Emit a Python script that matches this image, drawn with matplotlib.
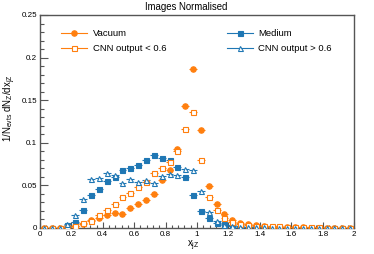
#=========================================================================
# images-normalised.py
#=========================================================================

import matplotlib
matplotlib.use( 'Agg' )
import matplotlib.pyplot as plt
from matplotlib.lines import Line2D
from matplotlib.ticker import MultipleLocator
import numpy as np

#-------------------------------------------------------------------------
# Configure matplotlib
#-------------------------------------------------------------------------

plt.rcParams['font.family']      = ['Liberation Sans', 'DejaVu Sans']
plt.rcParams['mathtext.default'] = 'regular'
plt.rcParams['figure.figsize']   = [ 3.74, 2.54 ]
plt.rcParams['figure.dpi']       = 100

#-------------------------------------------------------------------------
# Get data
#-------------------------------------------------------------------------

# Bin centres of x_jZ (bin width 0.05)

bin_width = 0.05
x_centres = np.arange( 40 ) * bin_width + bin_width / 2

# 1/N dN/dx per bin

vacuum = [
  0.0,    0.0,    0.0003, 0.001,  0.002,  0.005,  0.009,  0.0114, 0.015,  0.018,
  0.016,  0.024,  0.028,  0.033,  0.0398, 0.056,  0.0675, 0.0925, 0.1435, 0.187,
  0.1145, 0.049,  0.028,  0.016,  0.0098, 0.006,  0.0047, 0.003,  0.0022, 0.0016,
  0.0012, 0.001,  0.0008, 0.0006, 0.0005, 0.0004, 0.0003, 0.0002, 0.0002, 0.0001,
]

medium = [
  0.0,    0.0,    0.0003, 0.003,  0.0075, 0.0214, 0.0384, 0.046,  0.055,  0.060,
  0.068,  0.0705, 0.0745, 0.080,  0.0855, 0.0824, 0.0798, 0.0712, 0.0595, 0.039,
  0.020,  0.0118, 0.0063, 0.0045, 0.0031, 0.0018, 0.0012, 0.0008, 0.0006, 0.0005,
  0.0004, 0.0003, 0.0003, 0.0002, 0.0002, 0.0002, 0.0001, 0.0001, 0.0001, 0.0001,
]

cnn_low = [
  0.0,    0.0,    0.0003, 0.0006, 0.002,  0.0055, 0.0086, 0.015,  0.0216, 0.028,
  0.036,  0.0415, 0.048,  0.0545, 0.065,  0.0706, 0.0773, 0.0898, 0.1165, 0.136,
  0.080,  0.0367, 0.0215, 0.012,  0.0068, 0.0045, 0.0032, 0.0027, 0.0024, 0.0022,
  0.002,  0.0016, 0.0013, 0.001,  0.0008, 0.0006, 0.0005, 0.0004, 0.0003, 0.0002,
]

cnn_high = [
  0.0,    0.0,    0.0005, 0.0047, 0.0157, 0.0345, 0.058,  0.059,  0.065,  0.062,
  0.053,  0.058,  0.0545, 0.056,  0.053,  0.0616, 0.0635, 0.0624, 0.069,  0.0675,
  0.044,  0.0184, 0.008,  0.004,  0.0025, 0.0015, 0.001,  0.0008, 0.0006, 0.0005,
  0.0004, 0.0003, 0.0003, 0.0002, 0.0002, 0.0001, 0.0001, 0.0001, 0.0001, 0.0001,
]

labels = [
  'Vacuum',
  'Medium',
  'CNN output < 0.6',
  'CNN output > 0.6',
]

#-------------------------------------------------------------------------
# Plot parameters
#-------------------------------------------------------------------------

orange = '#ff7f0e'
blue   = '#1f77b4'
frame  = '#555555'

# (data, colour, marker, filled)

series = [
  ( vacuum,   orange, 'o', True  ),
  ( medium,   blue,   's', True  ),
  ( cnn_low,  orange, 's', False ),
  ( cnn_high, blue,   '^', False ),
]

msize = 3.6

#-------------------------------------------------------------------------
# Create plot
#-------------------------------------------------------------------------

fig = plt.figure()
ax  = fig.add_axes( [ 40/374, 1-228/254, 314/374, 213/254 ] )

handles = []

for data, col, mark, filled in series:
  face = col if filled else 'white'
  ms   = msize if mark != 'o' else msize + 0.3
  ax.errorbar( x_centres, data, xerr=bin_width/2, fmt=mark, color=col,
               mfc=face, mec=col, ms=ms, mew=0.8, elinewidth=0.8,
               capsize=0, zorder=3 )
  handles.append( Line2D( [0], [0], color=col, marker=mark, mfc=face,
                          mec=col, ms=ms, mew=0.8, lw=0.8 ) )

# Axis limits and ticks

ax.set_xlim( 0, 2 )
ax.set_ylim( 0, 0.25 )

ax.xaxis.set_major_locator( MultipleLocator( 0.2 ) )
ax.xaxis.set_minor_locator( MultipleLocator( 0.04 ) )
ax.yaxis.set_major_locator( MultipleLocator( 0.05 ) )
ax.yaxis.set_minor_locator( MultipleLocator( 0.01 ) )

ax.xaxis.set_major_formatter( plt.FuncFormatter( lambda v, p: '%g' % round( v, 3 ) ) )
ax.yaxis.set_major_formatter( plt.FuncFormatter( lambda v, p: '%g' % round( v, 3 ) ) )

ax.tick_params( axis='both', which='both', direction='in', color=frame,
                width=0.8, labelsize=5.8, top=False, right=False )
ax.tick_params( axis='x', which='major', length=4.5, pad=2.5 )
ax.tick_params( axis='x', which='minor', length=2.3 )
ax.tick_params( axis='y', which='major', length=6.0, pad=2 )
ax.tick_params( axis='y', which='minor', length=3.0 )

for sp in ax.spines.values():
  sp.set_color( frame )
  sp.set_linewidth( 1.0 )

# Legend (two columns, no frame)

order = [ 0, 2, 1, 3 ]
ax.legend( [ handles[i] for i in order ], [ labels[i] for i in order ],
           ncol=2, frameon=False, loc='upper left',
           bbox_to_anchor=( 21/314, 0.935 ), borderpad=0, borderaxespad=0,
           fontsize=6.8, handlelength=2.8, handletextpad=0.55,
           columnspacing=6.4, labelspacing=0.7 )

# Titles

fig.text( 186/374, 1-7/254, 'Images Normalised', ha='center', va='center',
          fontsize=6.9 )
fig.text( 193/374, 1-246/254, 'x$_{jZ}$', ha='center', va='center',
          fontsize=6.9 )
fig.text( 10/374, 1-108/254, '1/N$_{evts}$ dN$_{Z}$/dx$_{jZ}$', ha='center',
          va='center', rotation=90, fontsize=6.9 )

#-------------------------------------------------------------------------
# Save
#-------------------------------------------------------------------------

fig.savefig( 'out.png', dpi=100 )
